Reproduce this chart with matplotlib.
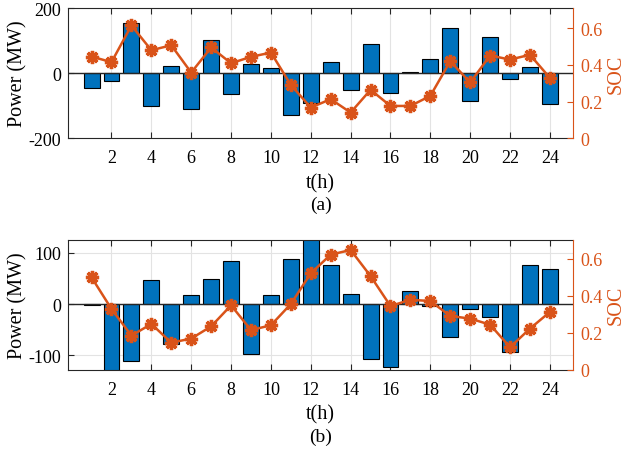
import matplotlib
matplotlib.use("Agg")
import matplotlib.pyplot as plt
import numpy as np

hours = list(range(1, 25))
xticks = list(range(2, 25, 2))

power_a = [-45, -24, 153, -100, 22, -111, 102, -65, 27, 15, -130, -92,
           33, -52, 89, -62, 4, 42, 138, -85, 112, -17, 20, -94]
soc_a = [0.445, 0.415, 0.615, 0.48, 0.507, 0.358, 0.495, 0.409, 0.444, 0.467, 0.291, 0.167,
         0.213, 0.14, 0.264, 0.176, 0.176, 0.231, 0.42, 0.304, 0.451, 0.429, 0.455, 0.329]

power_b = [-2, -135, -111, 47, -77, 18, 49, 85, -98, 17, 89, 130,
           77, 19, -108, -122, 25, -4, -64, -9, -26, -93, 77, 68]
soc_b = [0.499, 0.328, 0.184, 0.247, 0.146, 0.168, 0.234, 0.348, 0.214, 0.240, 0.355, 0.521,
         0.622, 0.647, 0.506, 0.344, 0.378, 0.371, 0.29, 0.276, 0.243, 0.121, 0.222, 0.312]

plt.rcParams['font.family'] = ['Liberation Serif', 'DejaVu Serif']
plt.rcParams['font.size'] = 13
plt.rcParams['axes.unicode_minus'] = False

BLUE = '#0072BD'
ORANGE = '#D95319'
DARK = '#262626'

fig = plt.figure(figsize=(6.32, 4.52), dpi=100)

def panel(rect, power, soc, ylim, yticks, ylim_r, label, label_y):
    ax = fig.add_axes(rect)
    ax.set_axisbelow(True)
    ax.bar(hours, power, width=0.8, color=BLUE, edgecolor='black', linewidth=0.8, zorder=2)
    ax.axhline(0, color=DARK, linewidth=1.0, zorder=3)
    ax.set_xlim(-0.17, 25.17)
    ax.set_ylim(*ylim)
    ax.set_xticks(xticks)
    ax.set_yticks(yticks)
    ax.grid(True, color='#e3e3e3', linewidth=0.8)
    ax.tick_params(direction='in', length=4, top=True, right=False, colors=DARK,
                   labelcolor='black', labelsize=13, pad=5)
    ax.tick_params(axis='x', pad=8)
    for s in ['left', 'top', 'bottom']:
        ax.spines[s].set_color(DARK)
    ax.spines['right'].set_visible(False)
    ax.set_ylabel('Power (MW)', fontsize=14.5, labelpad=1)
    ax.set_xlabel('t(h)', fontsize=14.5, labelpad=5)

    ax2 = ax.twinx()
    ax2.plot(hours, soc, color=ORANGE, linewidth=1.8, marker=(8, 2, 0), markersize=9.5,
             markeredgewidth=2.4, zorder=4)
    ax2.set_ylim(*ylim_r)
    ax2.set_yticks([0, 0.2, 0.4, 0.6])
    ax2.set_yticklabels(['0', '0.2', '0.4', '0.6'])
    ax2.tick_params(direction='in', length=4, colors=ORANGE, labelsize=13, pad=5)
    ax2.spines['right'].set_color(ORANGE)
    for s in ['left', 'top', 'bottom']:
        ax2.spines[s].set_visible(False)
    ax2.set_ylabel('SOC', color=ORANGE, fontsize=14.5, labelpad=3)
    fig.text(rect[0] + rect[2] / 2, label_y, label, ha='center', va='center', fontsize=14)

panel([0.108, 0.692, 0.799, 0.288], power_a, soc_a, (-200, 200), [-200, 0, 200],
      (0, 0.71), '(a)', 1 - 205 / 452)
panel([0.108, 0.180, 0.799, 0.2876], power_b, soc_b, (-128, 126), [-100, 0, 100],
      (0, 0.703), '(b)', 1 - 437 / 452)

fig.savefig('out.png', dpi=100)
